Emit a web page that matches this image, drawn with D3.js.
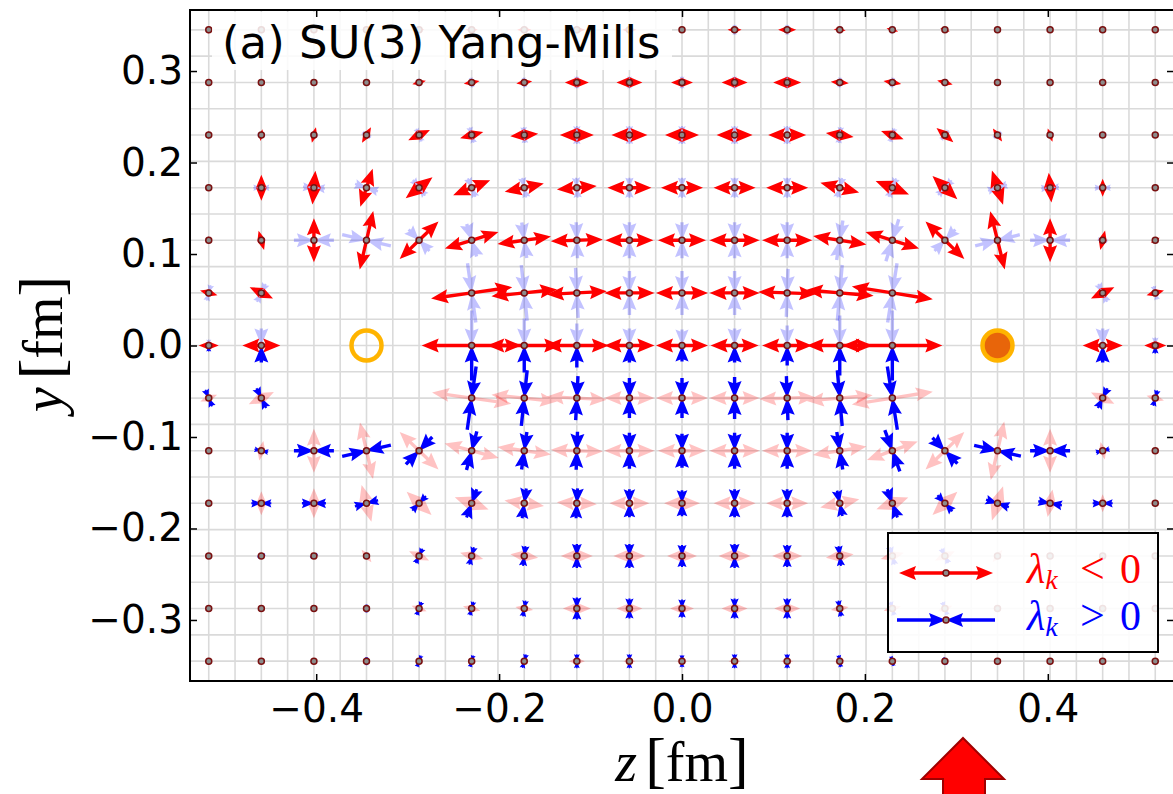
<!DOCTYPE html>
<html>
<head>
<meta charset="utf-8">
<script src="https://cdn.jsdelivr.net/npm/d3@7"></script>
<style>
  body { margin: 0; background: #fff; }
  text { font-family: "DejaVu Sans", sans-serif; }
  .serif { font-family: "Liberation Serif", "DejaVu Serif", serif; }
</style>
</head>
<body>
<svg id="chart" width="1173" height="794"></svg>
<script>
// Lattice sites (fm)
const zSites = [-0.5175, -0.46, -0.4025, -0.345, -0.2875, -0.23, -0.1725, -0.115, -0.0575, 0,
    0.0575, 0.115, 0.1725, 0.23, 0.2875, 0.345, 0.4025, 0.46, 0.5175];
const ySites = [0.345, 0.2875, 0.23, 0.1725, 0.115, 0.0575, 0, -0.0575, -0.115, -0.1725, -0.23, -0.2875, -0.345];

// Angle (deg, counter-clockwise from +z) of the lambda<0 eigenvector; the lambda>0 one is perpendicular.
// null = site not shown (close to the charges)
const redAngle = [
    [80, 0, 0, 0, 5, 0, 0, 0, 0, 0, 0, 0, -5, -15, -20, 0, 0, 30, 70],
    [0, 0, 0, 5, 15, 10, 8, 0, 0, 0, 0, 0, -5, -10, -15, 0, 0, 0, 0],
    [90, 80, 75, 60, 25, 15, 5, 0, 0, 0, 0, 0, -8, -20, -40, -55, -70, -80, 0],
    [90, 90, 85, 72, 38, 22, 12, 5, 0, 0, 0, 0, -14, -22, -43, -72, 95, 90, 0],
    [90, 106, 90, 77, 44, 17, 8, 2, 0, 0, 0, 0, -9, -17, -44, -76, 90, 76, 30],
    [-15, -26, null, null, null, 8, 6, 3, 0, 0, 0, -2, -5, -9, null, null, null, 26, 15],
    [0, 0, null, null, null, 0, 0, 0, 0, 0, 0, 0, 0, 0, null, null, null, 0, 0],
    [22, 26, null, null, null, -8, -6, -3, 0, 0, 0, 2, 5, 9, null, null, null, -26, -15],
    [0, 78, 90, 103, -44, -15, -8, -2, 0, 0, 0, 0, 9, 20, 44, 77, 90, 104, 0],
    [0, 90, 90, 105, -43, -20, -8, -3, 0, 0, 0, 0, 12, 20, 43, 72, 80, 90, 0],
    [0, -70, 120, -52, -25, -15, -7, 0, 0, 0, 0, 0, 7, 15, 25, 52, 60, 0, 0],
    [0, 0, 0, 0, -20, -15, -10, 0, 0, 0, 0, 0, 10, 15, 20, 0, 0, 0, 0],
    [0, 0, 0, 0, -20, -15, -15, 0, 0, 0, 0, 0, 10, 15, 20, 0, 0, 0, 0]
];

// Arrow magnitude of the lambda<0 eigenvector (arb. units)
const redLen = [
    [4, 2, 3, 4, 5, 6, 7, 8, 7, 3, 7, 9, 6, 6, 5, 3, 3, 4, 4],
    [2, 2, 2, 4, 7, 8, 8, 12, 13, 11, 13, 14, 9, 9, 8, 3, 2, 2, 2],
    [4, 6, 8, 9, 12, 12, 14, 17, 18, 17, 18, 19, 14, 12, 11, 8, 7, 3, 2],
    [2, 13, 17, 20, 17, 20, 20, 20, 22, 21, 21, 21, 20, 18, 17, 18, 15, 9, 2],
    [4, 10, 22, 30, 27, 28, 27, 26, 24, 24, 25, 25, 27, 28, 27, 30, 22, 10, 5],
    [9, 13, null, null, null, 41, 33, 30, 25, 26, 25, 29, 34, 41, null, null, null, 13, 9],
    [10, 19, null, null, null, 50, 37, 32, 25, 26, 24, 25, 33, 50, null, null, null, 20, 11],
    [9, 14, null, null, null, 40, 33, 30, 25, 26, 25, 28, 33, 41, null, null, null, 13, 9],
    [2, 10, 22, 29, 27, 28, 27, 26, 25, 24, 25, 25, 27, 27, 27, 30, 22, 9, 2],
    [2, 12, 15, 19, 17, 18, 20, 20, 20, 18, 21, 21, 20, 17, 17, 18, 14, 9, 2],
    [1, 4, 5, 8, 11, 12, 14, 16, 16, 15, 16, 15, 14, 12, 11, 8, 4, 2, 1],
    [1, 1, 1, 3, 8, 9, 9, 14, 13, 12, 13, 13, 9, 9, 8, 2, 1, 1, 1],
    [1, 1, 1, 2, 3, 4, 4, 8, 6, 5, 6, 6, 5, 5, 3, 1, 1, 1, 1]
];

// Arrow magnitude of the lambda>0 eigenvector (arb. units)
const blueLen = [
    [2, 1, 2, 2, 3, 3, 4, 4, 4, 2, 5, 5, 4, 4, 3, 2, 2, 2, 2],
    [1, 1, 1, 2, 4, 5, 5, 6, 6, 6, 6, 6, 5, 5, 4, 2, 1, 1, 1],
    [2, 4, 4, 5, 7, 8, 8, 9, 9, 9, 9, 9, 8, 7, 6, 5, 4, 4, 1],
    [1, 8, 11, 12, 10, 10, 10, 10, 10, 10, 10, 10, 10, 10, 10, 10, 9, 8, 1],
    [2, 4, 20, 25, 15, 17, 18, 18, 18, 18, 18, 18, 20, 22, 15, 23, 20, 5, 2],
    [8, 10, null, null, null, 30, 28, 25, 22, 22, 22, 24, 28, 30, null, null, null, 10, 7],
    [6, 17, null, null, null, 35, 27, 22, 17, 16, 17, 20, 30, 35, null, null, null, 17, 8],
    [9, 11, null, null, null, 32, 28, 22, 20, 20, 21, 22, 28, 32, null, null, null, 11, 8],
    [2, 7, 20, 25, 19, 20, 19, 19, 18, 17, 18, 18, 19, 22, 18, 24, 20, 7, 2],
    [1, 10, 12, 12, 10, 15, 15, 15, 14, 13, 14, 14, 13, 15, 11, 12, 12, 10, 1],
    [1, 4, 4, 2, 8, 9, 10, 12, 12, 11, 12, 11, 10, 9, 8, 3, 3, 2, 1],
    [1, 1, 1, 4, 7, 7, 8, 11, 10, 9, 10, 10, 8, 7, 7, 2, 1, 1, 1],
    [2, 1, 1, 4, 6, 6, 7, 7, 7, 6, 7, 7, 6, 5, 4, 1, 1, 1, 3]
];

// Static charges (quark / antiquark)
const charges = [
    { z: -0.345, y: 0, filled: false },
    { z: 0.345, y: 0, filled: true }
];

const xTicks = [-0.4, -0.2, 0.0, 0.2, 0.4];
const yTicks = [-0.3, -0.2, -0.1, 0.0, 0.1, 0.2, 0.3];
const title = "(a) SU(3) Yang-Mills";

// ---------------------------------------------------------------------------
const svg = d3.select("#chart");
const plot = { left: 190, right: 1174, top: 10, bottom: 681 };

const x = d3.scaleLinear().domain([-0.538, 0.538]).range([plot.left, plot.right]);
const y = d3.scaleLinear().domain([-0.3667, 0.3667]).range([plot.bottom, plot.top]);

// quiver scale: one magnitude unit in fm
const arrowUnit = 0.001093;
const lenPx = (m) => x(m * arrowUnit) - x(0);

svg.append("defs").append("clipPath").attr("id", "plotClip")
    .append("rect")
    .attr("x", plot.left).attr("y", plot.top)
    .attr("width", plot.right - plot.left).attr("height", plot.bottom - plot.top);

// Grid at half lattice spacing
const gridStep = 0.02875;
const grid = svg.append("g").attr("clip-path", "url(#plotClip)");
grid.selectAll("line.gz")
    .data(d3.range(-18, 19).map((k) => k * gridStep))
    .join("line")
    .attr("x1", (d) => x(d)).attr("x2", (d) => x(d))
    .attr("y1", plot.top).attr("y2", plot.bottom)
    .attr("stroke", "#dadada").attr("stroke-width", 1.6);
grid.selectAll("line.gy")
    .data(d3.range(-12, 13).map((k) => k * gridStep))
    .join("line")
    .attr("y1", (d) => y(d)).attr("y2", (d) => y(d))
    .attr("x1", plot.left).attr("x2", plot.right)
    .attr("stroke", "#dadada").attr("stroke-width", 1.6);

// Quiver-like half arrow, along +x, tail at 0 (inward: tip at 0)
const SHAFT = 3.4, HEAD_L = 17, HEAD_AX = 15, HEAD_W = 14;
function arrowPoints(L, inward) {
    const len = Math.max(L, HEAD_L);
    const s = L < HEAD_L ? L / HEAD_L : 1;
    let pts = [
        [0, -SHAFT / 2], [len - HEAD_AX, -SHAFT / 2], [len - HEAD_L, -HEAD_W / 2],
        [len, 0], [len - HEAD_L, HEAD_W / 2], [len - HEAD_AX, SHAFT / 2], [0, SHAFT / 2]
    ].map(([a, b]) => [a * s, b * s]);
    if (inward) pts = pts.map(([a, b]) => [L - a, b]);
    return pts;
}
const arrowPath = (L, inward) => "M" + arrowPoints(L, inward).map((p) => p.join(",")).join("L") + "Z";

// Build the half arrows
const halves = [];
const sites = [];
ySites.forEach((yv, i) => {
    zSites.forEach((zv, j) => {
        const ang = redAngle[i][j];
        if (ang === null) return;
        sites.push({ z: zv, y: yv });
        [[ang, redLen[i][j], "red"], [ang + 90, blueLen[i][j], "blue"]].forEach(([a, m, kind]) => {
            [a, a + 180].forEach((dir) => {
                const uy = Math.sin(dir * Math.PI / 180);
                const side = yv > 1e-9 ? 1 : yv < -1e-9 ? -1 : (Math.abs(uy) < 0.5 ? 0 : Math.sign(uy));
                const solid = kind === "red" ? side >= 0 : side <= 0;
                halves.push({ z: zv, y: yv, dir, m, kind, solid });
            });
        });
    });
});
halves.sort((a, b) => (a.solid === b.solid ? 0 : a.solid ? 1 : -1));

const arrows = svg.append("g").attr("clip-path", "url(#plotClip)");
arrows.selectAll("path")
    .data(halves)
    .join("path")
    .attr("d", (d) => arrowPath(lenPx(d.m), d.kind === "blue"))
    .attr("transform", (d) => `translate(${x(d.z)},${y(d.y)}) rotate(${-d.dir})`)
    .attr("fill", (d) => (d.kind === "red" ? "#ff0000" : "#0000ff"))
    .attr("fill-opacity", (d) => (d.solid ? 1 : 0.24));

// Lattice sites
arrows.selectAll("circle.site")
    .data(sites)
    .join("circle")
    .attr("class", "site")
    .attr("cx", (d) => x(d.z)).attr("cy", (d) => y(d.y))
    .attr("r", 3)
    .attr("fill", "#8c8c8c").attr("stroke", "#7a1010").attr("stroke-width", 1.5);

// Charges
svg.selectAll("circle.charge")
    .data(charges)
    .join("circle")
    .attr("class", "charge")
    .attr("cx", (d) => x(d.z)).attr("cy", (d) => y(d.y))
    .attr("r", 15)
    .attr("fill", (d) => (d.filled ? "#e8650a" : "none"))
    .attr("stroke", "#ffb400").attr("stroke-width", 4.5);

// Title box
svg.append("rect")
    .attr("x", 212).attr("y", 12).attr("width", 460).attr("height", 58)
    .attr("fill", "#fff").attr("fill-opacity", 0.85);
svg.append("text")
    .attr("x", 222).attr("y", 58)
    .attr("font-size", 45)
    .text(title);

// Axes (ticks inward on all four sides)
const fmt = d3.format(".1f");
const TICK = 7;
const axB = svg.append("g").attr("transform", `translate(0,${plot.bottom})`)
    .call(d3.axisBottom(x).tickValues(xTicks).tickFormat(fmt).tickSizeInner(-TICK).tickSizeOuter(0).tickPadding(13));
const axT = svg.append("g").attr("transform", `translate(0,${plot.top})`)
    .call(d3.axisTop(x).tickValues(xTicks).tickFormat("").tickSizeInner(-TICK).tickSizeOuter(0));
const axL = svg.append("g").attr("transform", `translate(${plot.left},0)`)
    .call(d3.axisLeft(y).tickValues(yTicks).tickFormat(fmt).tickSizeInner(-TICK).tickSizeOuter(0).tickPadding(7));
const axR = svg.append("g").attr("transform", `translate(${plot.right},0)`)
    .call(d3.axisRight(y).tickValues(yTicks).tickFormat("").tickSizeInner(-TICK).tickSizeOuter(0));
[axB, axT, axL, axR].forEach((g) => {
    g.select(".domain").remove();
    g.selectAll(".tick line").attr("stroke", "#000").attr("stroke-width", 1.5);
    g.selectAll(".tick text").attr("font-family", "DejaVu Sans").attr("font-size", 39).attr("fill", "#000");
});

svg.append("rect")
    .attr("x", plot.left).attr("y", plot.top)
    .attr("width", plot.right - plot.left).attr("height", plot.bottom - plot.top)
    .attr("fill", "none").attr("stroke", "#000").attr("stroke-width", 2);

// Axis labels
const xLab = svg.append("text").attr("class", "serif")
    .attr("x", 682).attr("y", 781).attr("text-anchor", "middle").attr("font-size", 56);
xLab.append("tspan").attr("font-style", "italic").text("z");
xLab.append("tspan").attr("dx", 8).attr("font-size", 62).text("[");
xLab.append("tspan").text("fm");
xLab.append("tspan").attr("font-size", 62).text("]");

const yLab = svg.append("text").attr("class", "serif")
    .attr("transform", "translate(62,344) rotate(-90)").attr("text-anchor", "middle").attr("font-size", 56);
yLab.append("tspan").attr("font-style", "italic").text("y");
yLab.append("tspan").attr("dx", 8).attr("font-size", 62).text("[");
yLab.append("tspan").text("fm");
yLab.append("tspan").attr("font-size", 62).text("]");

// Legend
const legend = svg.append("g");
legend.append("rect")
    .attr("x", 888).attr("y", 533).attr("width", 270).attr("height", 119)
    .attr("fill", "#fff").attr("fill-opacity", 0.88)
    .attr("stroke", "#000").attr("stroke-width", 2);
const legendItems = [
    { kind: "red", cy: 573, len: 47, color: "#ff0000", sign: "<" },
    { kind: "blue", cy: 620, len: 49, color: "#0000ff", sign: ">" }
];
legendItems.forEach((it) => {
    [0, 180].forEach((dir) => {
        legend.append("path")
            .attr("d", arrowPath(it.len, it.kind === "blue"))
            .attr("transform", `translate(946,${it.cy}) rotate(${dir})`)
            .attr("fill", it.color);
    });
    legend.append("circle").attr("cx", 946).attr("cy", it.cy).attr("r", 3)
        .attr("fill", "#8c8c8c").attr("stroke", "#7a1010").attr("stroke-width", 1.5);
    const t = legend.append("text").attr("class", "serif")
        .attr("x", 1027).attr("y", it.cy + 10).attr("font-size", 42).attr("fill", it.color);
    t.append("tspan").attr("font-style", "italic").text("λ");
    t.append("tspan").attr("font-style", "italic").attr("font-size", 28).attr("dy", 6).text("k");
    t.append("tspan").attr("x", 1080).attr("dy", -6).attr("font-size", 44).text(it.sign);
    t.append("tspan").attr("x", 1120).text("0");
});

// Marker arrow below the axis
svg.append("path")
    .attr("d", "M963,738 L1004,779 L985,779 L985,800 L943,800 L943,779 L922,779 Z")
    .attr("fill", "#ff0000").attr("stroke", "#a00000").attr("stroke-width", 2);
</script>
</body>
</html>
